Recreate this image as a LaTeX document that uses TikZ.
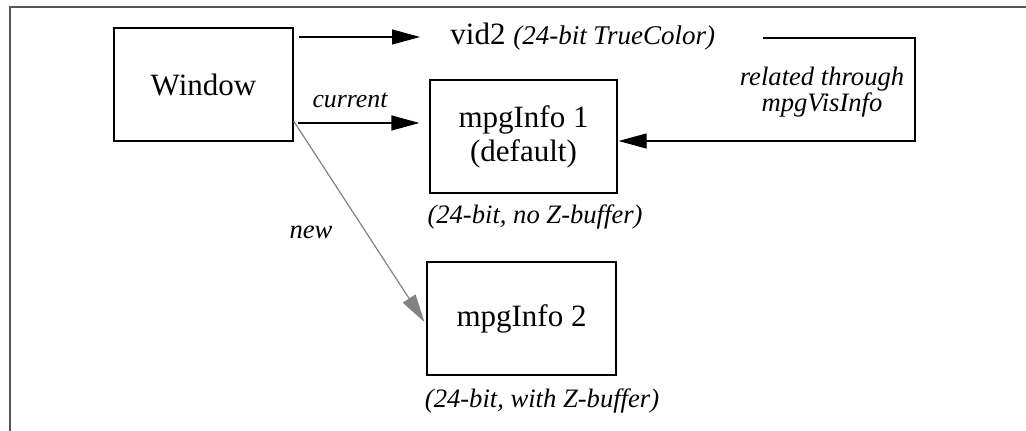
\documentclass[tikz,border=0pt]{standalone}
\usepackage{fontspec}
\setmainfont{Liberation Serif}
\usetikzlibrary{positioning,arrows.meta}
\definecolor{framecolor}{RGB}{85,85,85}
\definecolor{newcolor}{RGB}{130,130,130}

\begin{document}
\begin{tikzpicture}[x=0.5pt,y=-0.5pt,
    box/.style={rectangle, draw, line width=0.6pt, inner sep=0pt, font=\fontsize{15.5}{17}\selectfont, align=center},
    note/.style={font=\fontsize{13.3}{14}\selectfont\itshape, align=center},
    arr/.style={-{Triangle[length=14pt,width=7.5pt]}, line width=0.6pt}
]
\useasboundingbox (0,0) rectangle (1026,431);
\draw[framecolor, line width=1pt] (10,431) -- (10,7) -- (1026,7);

\node[box, minimum width=89.5pt, minimum height=56.5pt] (win) at (203.5,84.5) {Window};
\node[box, minimum width=93.5pt, minimum height=56.5pt] (info1) at (523.5,136.5) {mpgInfo 1\\(default)};
\node[box, minimum width=94.5pt, minimum height=56.5pt] (info2) at (521.5,318.5) {mpgInfo 2};

\node[anchor=west, inner sep=0pt] (vid) at (450,37) {\fontsize{15.5}{17}\selectfont vid2 {\fontsize{13.5}{14}\selectfont\itshape (24-bit TrueColor)}};
\node[note] (nozb) at (535,217) {(24-bit, no Z-buffer)};
\node[note] (withzb) at (542,401) {(24-bit, with Z-buffer)};
\node[note, font=\fontsize{12.9}{14}\selectfont\itshape] (cur) at (350,100) {current};
\node[note] (newlbl) at (311,232) {new};
\node[note, font=\fontsize{13.3}{10.5}\selectfont\itshape] (rel) at (822,92) {related through\\mpgVisInfo};

\coordinate (relstart) at (763,38);
\coordinate (bend) at (915,141);

\draw[arr] ([xshift=2.5pt]win.east |- vid.west) -- ([xshift=-15pt]vid.west);
\draw[arr] ([xshift=2pt,yshift=-19.25pt]win.east) -- ([xshift=-5pt,yshift=6.75pt]info1.west);
\draw[arr, newcolor] ([yshift=-18.25pt]win.east) -- ([xshift=-1pt,yshift=-1.75pt]info2.west);
\draw[arr] (relstart) -- (relstart -| bend) -- (bend) -- ([xshift=0.5pt]info1.east |- bend);
\end{tikzpicture}
\end{document}
